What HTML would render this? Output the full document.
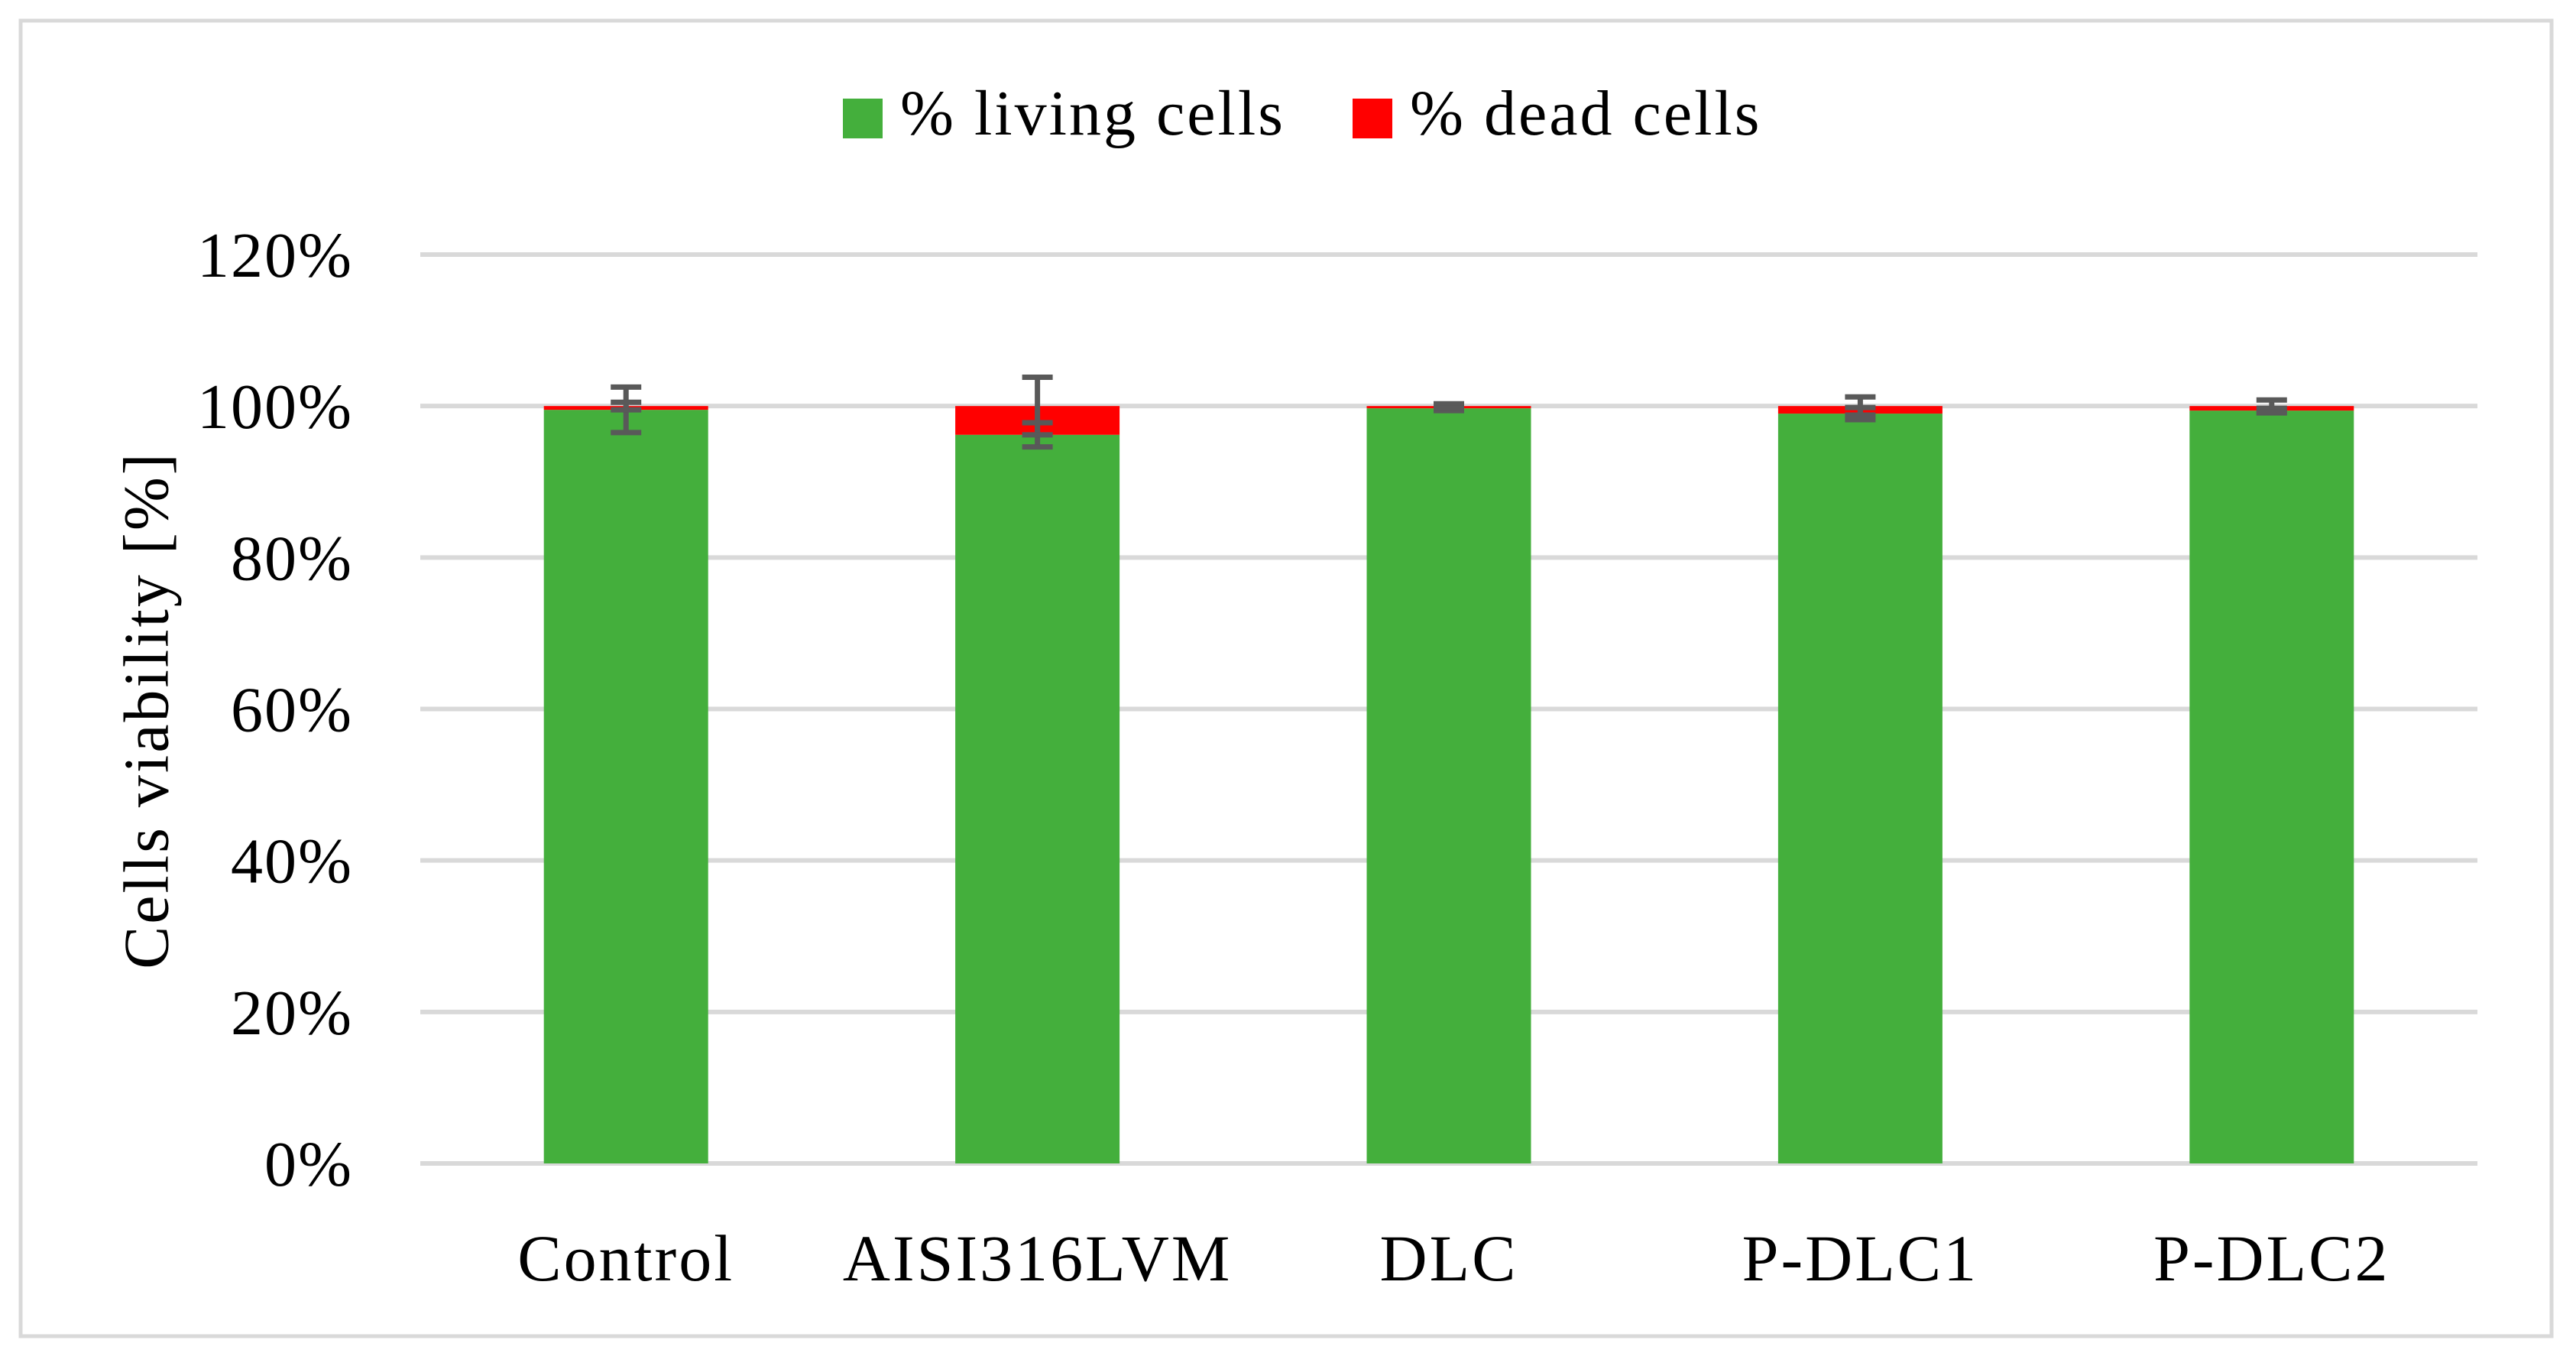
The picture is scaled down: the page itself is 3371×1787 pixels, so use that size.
<!DOCTYPE html>
<html><head><meta charset="utf-8"><style>
html,body{margin:0;padding:0;background:#fff;}
svg{display:block;font-family:"Liberation Serif",serif;}
</style></head><body>
<svg id="chart" width="3371" height="1787" viewBox="0 0 3371 1787" xmlns="http://www.w3.org/2000/svg">
<rect x="27" y="27" width="3312" height="1721" fill="#fff" stroke="#d9d9d9" stroke-width="5"/>
<g id="grid"></g>
<g id="ylabels"></g>
<g id="bars"></g>
<g id="errs"></g>
<g id="xlabels"></g>
<text x="200" y="929" transform="rotate(-90 200 929)" text-anchor="middle" dominant-baseline="middle" font-size="84" letter-spacing="3" fill="#000">Cells viability [%]</text>
<g>
<g>
<rect x="1103" y="129" width="52" height="52" fill="#44af3c"/>
<text x="1178" y="176" font-size="84" letter-spacing="3" fill="#000">% living cells</text>
</g>
<g>
<rect x="1770" y="129" width="52" height="52" fill="#ff0000"/>
<text x="1845" y="176" font-size="84" letter-spacing="3" fill="#000">% dead cells</text>
</g>
</g>
</svg>
<script>
const categories = ["Control","AISI316LVM","DLC","P-DLC1","P-DLC2"];
const living = [99.5, 96.2, 99.7, 99.0, 99.4];
const dead = [0.5, 3.8, 0.3, 1.0, 0.6];
const livingErr = [3.0, 1.6, 0.3, 0.8, 0.3];
const deadErr = [0.5, 3.8, 0.3, 1.2, 0.8];
const yTicks = [0, 20, 40, 60, 80, 100, 120];
const yTickLabels = ["0%","20%","40%","60%","80%","100%","120%"];

const NS = "http://www.w3.org/2000/svg";
const plotLeft = 550, plotRight = 3242, y0 = 1522, yTop = 333, yMax = 120;
function yScale(v){ return y0 - (v / yMax) * (y0 - yTop); }
const band = (plotRight - plotLeft) / categories.length;
function xCenter(i){ return plotLeft + band * (i + 0.5); }
const barW = 215;
function mk(tag, attrs, parent){
  const el = document.createElementNS(NS, tag);
  for (const k in attrs) el.setAttribute(k, attrs[k]);
  parent.appendChild(el);
  return el;
}
const grid = document.getElementById("grid");
const yl = document.getElementById("ylabels");
yTicks.forEach((t, i) => {
  const l = mk("line", {x1: plotLeft, x2: plotRight, y1: yScale(t), y2: yScale(t), stroke: "#d9d9d9", "stroke-width": 6}, grid);
  
  
  const tx = mk("text", {x: 462, y: yScale(t) + 29, "text-anchor": "end", "font-size": 84, "letter-spacing": 2, fill: "#000"}, yl);
  tx.textContent = yTickLabels[i];
  
  
});
const bars = document.getElementById("bars");
const errs = document.getElementById("errs");
const xl = document.getElementById("xlabels");
function errBar(cx, v, e, name){
  const g = mk("g", {stroke: "#595959", "stroke-width": 7}, errs);
  
  
  mk("line", {x1: cx, x2: cx, y1: yScale(v + e), y2: yScale(v - e)}, g);
  mk("line", {x1: cx - 20, x2: cx + 20, y1: yScale(v + e), y2: yScale(v + e)}, g);
  mk("line", {x1: cx - 20, x2: cx + 20, y1: yScale(v - e), y2: yScale(v - e)}, g);
}
categories.forEach((c, i) => {
  const cx = xCenter(i);
  const g = mk("rect", {x: cx - barW / 2, y: yScale(living[i]), width: barW, height: yScale(0) - yScale(living[i]), fill: "#44af3c"}, bars);
  
  
  const r = mk("rect", {x: cx - barW / 2, y: yScale(living[i] + dead[i]), width: barW, height: yScale(living[i]) - yScale(living[i] + dead[i]), fill: "#ff0000"}, bars);
  
  
  errBar(cx, living[i], livingErr[i], 'error-bar-living-' + c.toLowerCase());
  errBar(cx, living[i] + dead[i], deadErr[i], 'error-bar-dead-' + c.toLowerCase());
  const t = mk("text", {x: cx, y: 1675, "text-anchor": "middle", "font-size": 86, "letter-spacing": 3, fill: "#000"}, xl);
  t.textContent = c;
  
  
});
</script>
</body></html>
